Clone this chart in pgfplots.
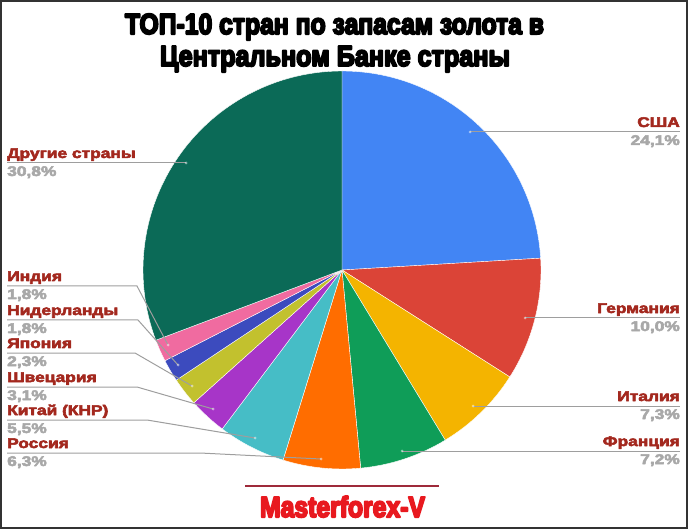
\documentclass[border=0pt]{standalone}
\usepackage{pgfplots}
\pgfplotsset{compat=1.18}
\usepackage{pgfplotstable}
\usepackage{graphicx}
\usepackage{fontspec}
\setmainfont{Liberation Sans}
\newfontfamily\heavy{Liberation Sans}
\newfontfamily\lblfont{Liberation Sans}
\newcommand\strokeon[1]{\special{pdf:literal direct 1 j #1 w 2 Tr}}
\newcommand\strokeoff{\special{pdf:literal direct 0 Tr 0 j}}

\definecolor{cusa}{HTML}{4285F4}
\definecolor{cger}{HTML}{DB4437}
\definecolor{cita}{HTML}{F4B400}
\definecolor{cfra}{HTML}{0F9D58}
\definecolor{crus}{HTML}{FF6D00}
\definecolor{cchn}{HTML}{46BDC6}
\definecolor{csui}{HTML}{A735C8}
\definecolor{cjpn}{HTML}{C2C12E}
\definecolor{cned}{HTML}{3C4BBE}
\definecolor{cind}{HTML}{F06BA0}
\definecolor{coth}{HTML}{0B6A57}
\definecolor{namec}{HTML}{A3281E}
\definecolor{pctc}{HTML}{A8A8A8}
\definecolor{leadc}{HTML}{9E9E9E}
\definecolor{brandc}{HTML}{E8191F}
\definecolor{brandline}{HTML}{9E2A3A}

\pgfplotstableread[col sep=comma]{
name,value,color
США,24.1,cusa
Германия,10.0,cger
Италия,7.3,cita
Франция,7.2,cfra
Россия,6.3,crus
Китай (КНР),5.5,cchn
Швецария,3.1,csui
Япония,2.3,cjpn
Нидерланды,1.8,cned
Индия,1.8,cind
Другие страны,30.8,coth
}\piedata

\newcommand\nm[1]{\scalebox{1.24}[1]{\lblfont\bfseries\fontsize{14pt}{16pt}\selectfont\color{namec}\strokeon{0.5}#1\strokeoff}}
\newcommand\pc[1]{\scalebox{1.24}[1]{\lblfont\bfseries\fontsize{14pt}{16pt}\selectfont\color{pctc}\strokeon{0.5}#1\strokeoff}}
\newcommand\ttl[1]{\heavy\bfseries\fontsize{29pt}{32pt}\selectfont\strokeon{2.0}#1\strokeoff}

\begin{document}
\begin{tikzpicture}
% total of the values
\def\pietotal{0}
\pgfplotsforeachungrouped \i in {0,...,10}{%
  \pgfplotstablegetelem{\i}{value}\of\piedata
  \pgfmathsetmacro\pietotal{\pietotal+\pgfplotsretval}%
}
\begin{axis}[
  x=1pt, y=1pt, xmin=0, xmax=688, ymin=0, ymax=529,
  y dir=reverse, hide axis, clip=false, scale only axis,
]
\addplot[draw=none] coordinates {(0,0) (688,529)};
% slices
\def\piecum{0}
\pgfplotsforeachungrouped \i in {0,...,10}{%
  \pgfplotstablegetelem{\i}{value}\of\piedata \let\sliceval\pgfplotsretval
  \pgfplotstablegetelem{\i}{color}\of\piedata \let\slicecol\pgfplotsretval
  \pgfmathsetmacro\angA{90-(\piecum/\pietotal)*360}%
  \pgfmathsetmacro\piecumnew{\piecum+\sliceval}%
  \pgfmathsetmacro\angB{90-(\piecumnew/\pietotal)*360}%
  \pgfmathsetmacro\sx{342+199*cos(\angA)}%
  \pgfmathsetmacro\sy{270-199*sin(\angA)}%
  \edef\temp{\noexpand\filldraw[fill=\slicecol, draw=white, line width=0.4pt] (axis cs:342,270) -- (axis cs:\sx,\sy) arc[start angle=\angA, end angle=\angB, radius=199pt] -- cycle;}%
  \temp
  \let\piecum\piecumnew
}
% leader lines
\begin{scope}[draw=leadc, line width=1pt]
\draw (axis cs:470,132) -- (axis cs:680,132);
\draw (axis cs:525,318) -- (axis cs:680,318);
\draw (axis cs:473,406) -- (axis cs:680,406);
\draw (axis cs:402,451) -- (axis cs:680,451);
\draw (axis cs:7,163) -- (axis cs:186,163);
\draw (axis cs:7,286) -- (axis cs:137,286) -- (axis cs:168,345);
\draw (axis cs:7,320) -- (axis cs:138,320) -- (axis cs:178,365);
\draw (axis cs:7,353) -- (axis cs:135,353) -- (axis cs:192,386);
\draw (axis cs:7,387) -- (axis cs:137,387) -- (axis cs:213,409);
\draw (axis cs:7,420) -- (axis cs:147,420) -- (axis cs:255,438);
\draw (axis cs:7,453) -- (axis cs:200,453) -- (axis cs:321,459);
\end{scope}
\fill[white, fill opacity=0.5] (axis cs:470,132) circle[radius=1.5pt];
\fill[white, fill opacity=0.5] (axis cs:525,318) circle[radius=1.5pt];
\fill[white, fill opacity=0.5] (axis cs:473,406) circle[radius=1.5pt];
\fill[white, fill opacity=0.5] (axis cs:402,451) circle[radius=1.5pt];
\fill[white, fill opacity=0.5] (axis cs:186,163) circle[radius=1.5pt];
\fill[white, fill opacity=0.5] (axis cs:168,345) circle[radius=1.5pt];
\fill[white, fill opacity=0.5] (axis cs:178,365) circle[radius=1.5pt];
\fill[white, fill opacity=0.5] (axis cs:192,386) circle[radius=1.5pt];
\fill[white, fill opacity=0.5] (axis cs:213,409) circle[radius=1.5pt];
\fill[white, fill opacity=0.5] (axis cs:255,438) circle[radius=1.5pt];
\fill[white, fill opacity=0.5] (axis cs:321,459) circle[radius=1.5pt];
% right labels
\node[anchor=base east, inner sep=0] at (axis cs:680,127) {\nm{США}};
\node[anchor=base east, inner sep=0] at (axis cs:680,145) {\pc{24,1\%}};
\node[anchor=base east, inner sep=0] at (axis cs:680,313) {\nm{Германия}};
\node[anchor=base east, inner sep=0] at (axis cs:680,331) {\pc{10,0\%}};
\node[anchor=base east, inner sep=0] at (axis cs:680,401) {\nm{Италия}};
\node[anchor=base east, inner sep=0] at (axis cs:680,419) {\pc{7,3\%}};
\node[anchor=base east, inner sep=0] at (axis cs:680,446) {\nm{Франция}};
\node[anchor=base east, inner sep=0] at (axis cs:680,464) {\pc{7,2\%}};
% left labels
\node[anchor=base west, inner sep=0] at (axis cs:7,158) {\nm{Другие страны}};
\node[anchor=base west, inner sep=0] at (axis cs:7,176) {\pc{30,8\%}};
\node[anchor=base west, inner sep=0] at (axis cs:7,281) {\nm{Индия}};
\node[anchor=base west, inner sep=0] at (axis cs:7,299) {\pc{1,8\%}};
\node[anchor=base west, inner sep=0] at (axis cs:7,315) {\nm{Нидерланды}};
\node[anchor=base west, inner sep=0] at (axis cs:7,333) {\pc{1,8\%}};
\node[anchor=base west, inner sep=0] at (axis cs:7,348) {\nm{Япония}};
\node[anchor=base west, inner sep=0] at (axis cs:7,366) {\pc{2,3\%}};
\node[anchor=base west, inner sep=0] at (axis cs:7,382) {\nm{Швецария}};
\node[anchor=base west, inner sep=0] at (axis cs:7,400) {\pc{3,1\%}};
\node[anchor=base west, inner sep=0] at (axis cs:7,415) {\nm{Китай (КНР)}};
\node[anchor=base west, inner sep=0] at (axis cs:7,433) {\pc{5,5\%}};
\node[anchor=base west, inner sep=0] at (axis cs:7,448) {\nm{Россия}};
\node[anchor=base west, inner sep=0] at (axis cs:7,466) {\pc{6,3\%}};
% title
\node[anchor=base, inner sep=0] at (axis cs:334.5,34) {\resizebox{419pt}{\height}{\ttl{ТОП-10 стран по запасам золота в}}};
\node[anchor=base, inner sep=0] at (axis cs:335,66) {\resizebox{350pt}{\height}{\ttl{Центральном Банке страны}}};
% brand
\draw[brandline, line width=2pt] (axis cs:245,486) -- (axis cs:439,486);
\node[anchor=base, inner sep=0] at (axis cs:342.5,517) {\resizebox{165pt}{\height}{\color{brandc}\ttl{Masterforex-V}}};
% frame
\draw[black!80, line width=2pt] (axis cs:1,1) rectangle (axis cs:687,528);
\end{axis}
\end{tikzpicture}
\end{document}
